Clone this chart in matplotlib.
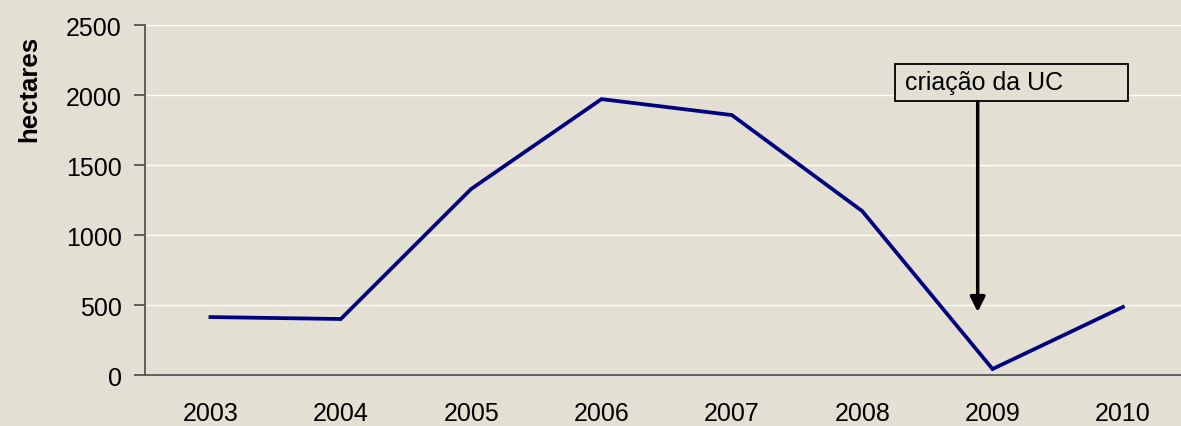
import matplotlib
matplotlib.use("Agg")
import matplotlib.pyplot as plt
from matplotlib.patches import Rectangle

years = ["2003", "2004", "2005", "2006", "2007", "2008", "2009", "2010"]
hectares = [414, 400, 1329, 1971, 1857, 1171, 43, 486]
yticks = [0, 500, 1000, 1500, 2000, 2500]
annot_text = "criação da UC"

plt.rcParams['font.family'] = ['Liberation Sans', 'DejaVu Sans']
bg = "#E3DFD3"
fig = plt.figure(figsize=(11.81, 4.27), dpi=100, facecolor=bg)
ax = fig.add_axes([0.1230, 0.1194, 0.8830, 0.8196])
ax.set_facecolor(bg)

x = list(range(len(years)))
ax.plot(x, hectares, color="#000080", lw=2.7, solid_joinstyle="miter", zorder=3)

ax.set_xlim(-0.5, 7.5)
ax.set_ylim(0, 2500)
ax.set_yticks(yticks)
ax.set_xticks(x)
ax.set_xticklabels(years)
ax.yaxis.grid(True, color="white", lw=1.0)
ax.set_axisbelow(True)
for s in ["top", "right"]:
    ax.spines[s].set_visible(False)
for s in ["left", "bottom"]:
    ax.spines[s].set_color("#555555")
    ax.spines[s].set_linewidth(1.3)
ax.tick_params(axis="y", direction="out", length=8, width=1.3, color="#555555",
               pad=9, labelsize=18)
ax.tick_params(axis="x", length=0, pad=19, labelsize=18)
ax.set_ylabel("hectares", fontsize=18.5, fontweight="bold")
ax.yaxis.set_label_coords(-0.1, 0.821)

# annotation box and arrow
ax.add_patch(Rectangle((5.25, 1957), 1.79, 264, facecolor=bg, edgecolor="black",
                       lw=1.3, zorder=4, clip_on=False))
ax.text(5.33, 2095, annot_text, fontsize=18, va="center", ha="left", zorder=5)
ax.annotate("", xy=(5.886, 450), xytext=(5.886, 1950),
            arrowprops=dict(arrowstyle="-|>,head_length=0.9,head_width=0.45",
                            color="black", lw=2.5, shrinkA=0, shrinkB=0), zorder=5)

fig.savefig("out.png", dpi=100, facecolor=bg)
